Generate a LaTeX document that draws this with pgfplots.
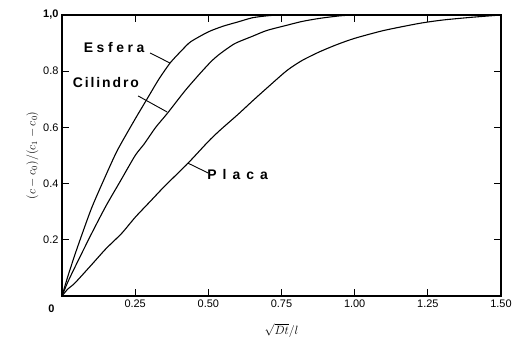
\documentclass[border=0pt]{standalone}
\usepackage{fontspec}
\setmainfont{Liberation Sans}
\usepackage{pgfplots}
\pgfplotsset{compat=1.18}
\newcommand{\gap}[1]{\hspace{#1bp}}
\begin{document}
\begin{tikzpicture}[x=1bp,y=1bp]
\begin{axis}[
  scale only axis,
  width=439bp, height=281bp,
  xmin=0, xmax=1.5, ymin=0, ymax=1.0,
  xtick={0.25,0.5,0.75,1.0,1.25,1.5},
  xticklabels={0.25,0.50,0.75,1.00,1.25,1.50},
  ytick={0.2,0.4,0.6,0.8,1.0},
  yticklabels={0.2,0.4,0.6,0.8,{\textbf{1,0}}},
  tick align=inside,
  major tick length=7bp,
  axis line style={line width=1.1pt},
  tick style={line width=1pt, black},
  tick label style={font=\fontsize{11}{13}\selectfont},
  /pgf/number format/assume math mode=true,
  xlabel={$\sqrt{Dt}/l$},
  ylabel={$(c-c_0)/(c_1-c_0)$},
  xlabel style={yshift=-9bp, font=\fontsize{12}{14}\selectfont},
  ylabel style={yshift=-2bp, font=\fontsize{12}{14}\selectfont},
  clip=false,
]
% Esfera
\addplot[black, line width=1.1pt, smooth, tension=0.4] coordinates {(0,0) (0.02,0.07) (0.05,0.165) (0.1,0.31) (0.15,0.43) (0.19,0.52) (0.25,0.63) (0.29,0.70) (0.33,0.77) (0.37,0.83) (0.41,0.875) (0.44,0.905) (0.5,0.94) (0.55,0.96) (0.6,0.975) (0.65,0.99) (0.7,0.997) (0.75,1.0) (0.9,1.0)};
% Cilindro
\addplot[black, line width=1.1pt, smooth, tension=0.4] coordinates {(0,0) (0.02,0.05) (0.05,0.115) (0.1,0.22) (0.15,0.32) (0.2,0.41) (0.25,0.50) (0.28,0.54) (0.32,0.60) (0.36,0.65) (0.42,0.73) (0.47,0.79) (0.51,0.835) (0.54,0.862) (0.59,0.898) (0.65,0.924) (0.7,0.945) (0.77,0.964) (0.82,0.977) (0.88,0.988) (0.95,0.997) (1.0,1.0) (1.1,1.0)};
% Placa
\addplot[black, line width=1.1pt, smooth, tension=0.4] coordinates {(0,0) (0.02,0.025) (0.044,0.046) (0.1,0.11) (0.15,0.168) (0.204,0.223) (0.25,0.28) (0.3,0.335) (0.35,0.39) (0.43,0.472) (0.5,0.55) (0.54,0.59) (0.6,0.645) (0.654,0.697) (0.7,0.74) (0.768,0.802) (0.82,0.838) (0.88,0.869) (0.94,0.895) (1.0,0.917) (1.1,0.945) (1.22,0.97) (1.3,0.982) (1.39,0.991) (1.45,0.996) (1.5,1.0)};
\node[font=\bfseries\fontsize{14}{16}\selectfont] at (axis cs:0.178,0.886) {E\gap{3.6}s\gap{3.6}f\gap{3.6}e\gap{3.6}r\gap{3.6}a};
\node[font=\bfseries\fontsize{14}{16}\selectfont] at (axis cs:0.150,0.758) {C\gap{1.9}i\gap{1.9}l\gap{1.9}i\gap{1.9}n\gap{1.9}d\gap{1.9}r\gap{1.9}o};
\node[font=\bfseries\fontsize{14}{16}\selectfont] at (axis cs:0.600,0.431) {P\gap{6}l\gap{6}a\gap{6}c\gap{6}a};
\draw[line width=0.9pt] (axis cs:0.301,0.865) -- (axis cs:0.369,0.829);
\draw[line width=0.9pt] (axis cs:0.260,0.712) -- (axis cs:0.359,0.655);
\draw[line width=0.9pt] (axis cs:0.430,0.473) -- (axis cs:0.499,0.438);
\node[anchor=north east, font=\bfseries\fontsize{11}{13}\selectfont] at ([xshift=-4bp,yshift=-5bp]axis cs:0,0) {0};
\end{axis}
\pgfresetboundingbox
\path ([shift={(-62bp,-55bp)}]current axis.south west) rectangle ([shift={(13bp,15bp)}]current axis.north east);
\end{tikzpicture}
\end{document}
